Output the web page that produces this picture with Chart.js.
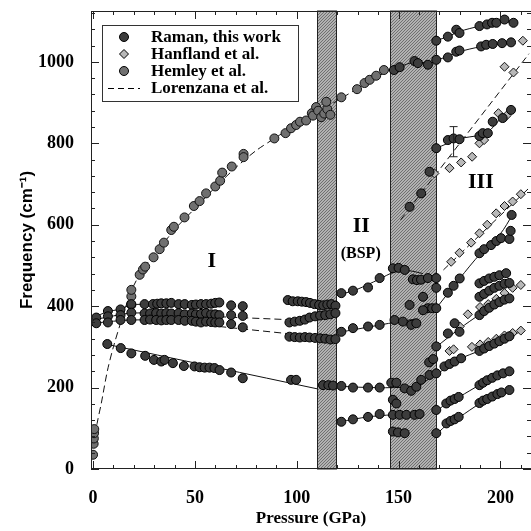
<!DOCTYPE html>
<html lang="en">
<head>
<meta charset="UTF-8">
<title>Frequency vs Pressure</title>
<script src="https://cdn.jsdelivr.net/npm/chart.js@4.4.1/dist/chart.umd.min.js"></script>
<style>
  html, body { margin: 0; padding: 0; background: #fff; }
  #contenedor { width: 531px; height: 531px; }
</style>
</head>
<body>
<div id="contenedor"><canvas id="graficoRaman"></canvas></div>
<script>
// ==========================================================================
// DATOS  [presión (GPa), frecuencia (cm-1)]
// ==========================================================================
const ticksX = [0, 50, 100, 150, 200];
const ticksY = [0, 200, 400, 600, 800, 1000];
const bandasTransicion = [[110, 120], [146, 169]];

// Raman, this work: fase I
const ramanFaseI = [
  [7.3,388],[13.5,392],[18.8,405],[25.3,405],[29.4,405],[31.5,406],[33.5,407],[36,407],[38.4,408],[42,405],
  [45,405],[48.5,403],[50.5,404],[53,405],[55.5,405],[58,406],[60,408],[62,409],[67.8,402],[73.5,400],
  [1.6,372],[7.3,375],[13.5,378],[18.8,384],[25.3,382],[28,382],[31,383],[33.5,382],[36,383],[38.4,382],
  [42,383],[45,380],[48.5,382],[50.5,380],[53,381],[55.5,383],[58,380],[60,380],[62,378],[67.8,378],[73.5,376],
  [1.6,358],[7.3,360],[13.5,366],[18.8,366],[25.3,366],[28,367],[31,366],[33.5,365],[36,366],[38.4,366],
  [42,366],[45,364],[48.5,364],[50.5,362],[53,360],[55.5,362],[58,361],[60,360],[62,360],[67.8,356],[73.5,348],
  [7,307],[13.6,297],[18.8,284],[25.6,278],[29.9,268],[33.5,264],[35.1,268],[39.2,260],[44.6,253],[49.8,252],
  [52.3,250],[54.8,249],[57.2,249],[59.6,248],[62.1,243],[67.8,237],[73.5,223],[97.2,219],[99.7,219],
  [95.6,415],[98,412],[100.5,412],[102.5,411],[104.6,410],[106.5,408],[108.7,405],[111,403],[113,402],[115,404],[117,405],[119,401],
  [96.4,360],[99,362],[101.5,364],[104,367],[106.3,372],[109,375],[111.5,377],[114,378],[116.5,380],[119,383],
  [96.4,325],[99,324],[101.5,323],[104,324],[106.3,323],[109,322],[111.5,321],[114,320],[116.5,318],[119,319]
];

// Raman, this work: fase II y zona de transición
const ramanFaseII = [
  [121.9,432],[127.6,438],[135,446],[140.7,469],
  [121.9,337],[127.6,346],[135,350],[140.7,354],
  [112.9,206],[115.5,206],[117.8,205],[121.9,204],[127.6,200],[135,200],[140.7,200],
  [121.9,116],[127.6,122],[135,128],[140.7,135],
  [147.2,493],[150,494],[153,489],[157,466],[159,464],[161,465],[164.4,469],[168.5,469],[168.5,445],[162,423],[155.4,403],
  [148,366],[152.1,362],[156.2,354],[158.7,358],[164.4,395],[166.5,395],[168.5,395],[162,390],
  [146.4,212],[148.9,212],[153,198],[156.2,192],[158.7,202],[161.1,219],[165.2,231],[168.5,235],[165,262],[167,270],
  [147.2,170],[148.9,161],
  [147.2,133],[150.5,133],[153.8,133],[157.8,133],[160.3,135],[168.5,145],
  [147.2,92],[149.7,90],[153,88],[168.5,88],
  [168.5,301],[168.5,788],[165.2,730],[161.1,677],[155.4,644],
  [147.7,980],[150.5,987],[157.8,1002],[159.5,997],[164.4,993],[168.5,1005],[168.5,1052]
];

// Raman, this work: fase III
const ramanFaseIII = [
  [174.2,1011],[178.3,1025],[179.9,1028],[190.5,1038],[193,1042],[196.2,1044],[200.8,1046],[205.2,1048],
  [174.2,1062],[178.3,1079],[179.9,1071],[189.7,1088],[193.4,1092],[195.9,1096],[198,1096],[202,1104],[206.4,1096],
  [174.2,808],[177,812],[179.9,810],[189.7,818],[191.3,825],[193.8,825],[196.2,853],[201.1,862],[205.2,882],
  [173.5,112],[175.5,118],[177.5,122],[179.5,128],[189.7,162],[191.5,168],[193.5,172],[196,178],[198.5,184],[200.5,188],[204.4,194],
  [173.4,161],[175.5,168],[177.5,172],[179.5,177],[189.7,206],[191.5,212],[193.5,218],[196,224],[198.5,230],[201.3,235],[204.4,240],
  [172.5,252],[175,258],[177.5,264],[180.7,272],[189.7,290],[192,296],[194.5,302],[197,308],[199.5,314],[202,320],[204.4,326],
  [174.2,333],[177.5,358],[179.9,337],[189.7,378],[192,388],[194.5,396],[197,404],[199.5,410],[202,416],[204.4,419],
  [189.7,423],[192,430],[194.5,438],[197,445],[199.5,450],[202,455],[204.4,457],
  [189.7,456],[192,462],[194.5,468],[197,472],[199.5,476],[202.8,481],
  [174.2,433],[177,450],[180,468],[189.7,530],[192,540],[195.4,550],[198,560],[200.3,567],[204.4,565],[205,585],[205.5,624]
];

// Hanfland et al.
const hanflandPuntos = [
  [202,988],[206.4,974],[211,1052],
  [167.6,726],[175,739],[180.7,753],[186.1,767],[189.7,800],[192,808],[199,874],[203,868],
  [175.8,509],[179.9,531],[185.6,556],[189.7,579],[193.5,600],[197.9,628],[202,646],[206,657],[210,675],
  [180,350],[184,380],[190,398],[194,405],[198,418],[202,432],[206,445],[210,452],
  [175,290],[177,294],[186,300],[190,306],[194,312],[198,320],[202,328],[206,334],[210,340]
];

// Hemley et al.
const hemleyPuntos = [
  [0,35],[0.3,62],[0.4,75],[0.5,88],[0.6,98],
  [18.8,403],[18.8,424],[18.8,440],[22.9,477],[24.5,490],[25.6,497],[29.7,520],[32.7,540],[34.8,556],[38.4,587],
  [39.7,595],[44.9,618],[49.5,646],[52.3,658],[55.5,677],[60,694],[62.4,708],[63.4,728],[68.1,743],[73.9,774],[73.9,766],
  [89,812],[94.5,825],[97.2,837],[99.7,845],[101.6,853],[104.6,856],[107.4,874],[109.5,889],[108,868],[110.5,880],
  [112,864],[113.5,873],[115,884],[116.5,870],[114.5,902],[121.9,913],[129.6,933],[133.3,948],[135.8,956],[139,966],[142.8,980]
];

// Lorenzana et al. (curvas discontinuas)
const lorenzanaCurvas = [
  [[0,28],[1,75],[2,112],[4,160],[7,240],[10,300],[14,366],[19,440],[25,495],[30,525],[40,588],[50,640],[60,692],
   [70,740],[80,782],[90,815],[100,848],[110,876],[120,905],[130,935],[140,965],[146,980]],
  [[62,374],[100,366]],
  [[62,350],[110,325]],
  [[151,612],[214,1020]],
  [[172,489],[214,690]]
];

// Ajustes continuos de los datos Raman
const ajustesRaman = [
  [[0,372],[7,386],[13.5,393],[18.8,403],[30,405],[62,408]],
  [[0,366],[10,376],[18.8,383],[40,382],[62,379]],
  [[0,358],[10,363],[18.8,366],[40,366],[62,360]],
  [[7,306],[110,197]],
  [[145,978],[150,987],[158,1000],[165,997],[170,1006],[180,1025],[190,1037],[200,1044],[206,1048]],
  [[168.5,1052],[175,1064],[180,1075],[190,1088],[200,1098],[206,1097]],
  [[168.5,788],[180,811],[190,820],[194,828],[200,860],[205,880]],
  [[121,428],[130,442],[140,465],[148,484],[155,487],[162,480]],
  [[120,335],[140,353],[150,362],[158,368]],
  [[113,206],[130,201],[148,200],[160,206],[168.5,235]],
  [[121,116],[135,128],[147,133],[160,134]],
  [[168.5,85],[175,114],[180,128],[190,161],[200,186],[206,198]],
  [[168.5,142],[175,166],[180,178],[190,207],[200,232],[206,242]],
  [[168.5,232],[180,270],[190,291],[200,314],[211,340]],
  [[168.5,300],[180,345],[190,380],[200,410],[206,423]],
  [[168.5,395],[180,468],[190,528],[200,578],[206,625]]
];

const etiquetasFase = [["I", 58.3, 511, 22], ["II", 131.7, 597, 22], ["(BSP)", 131.4, 528, 16], ["III", 190.4, 704, 22]];
const barraError = [177, 767, 841];

// ==========================================================================
// ESTILOS
// ==========================================================================
const fuenteSerif = '"Liberation Serif", "Times New Roman", serif';
const fuenteSans = '"Liberation Sans", Arial, sans-serif';

const aXY = lista => lista.map(([x, y]) => ({ x: x, y: y }));

// Patrón rayado fino para las bandas de transición
const patronRayado = (function () {
  const c = document.createElement('canvas');
  c.width = 3; c.height = 3;
  const g = c.getContext('2d');
  g.fillStyle = '#b2b2b2';
  g.fillRect(0, 0, 3, 3);
  g.fillStyle = '#707070';
  g.fillRect(2, 0, 1, 1);
  g.fillRect(1, 1, 1, 1);
  g.fillRect(0, 2, 1, 1);
  return c;
})();

function dibujarMarcador(ctx, tipo, x, y) {
  ctx.save();
  ctx.lineWidth = 1;
  ctx.strokeStyle = '#000';
  ctx.beginPath();
  if (tipo === 'diamante') {
    ctx.fillStyle = '#b8b8b8';
    ctx.moveTo(x, y - 4.5); ctx.lineTo(x + 4.5, y); ctx.lineTo(x, y + 4.5); ctx.lineTo(x - 4.5, y); ctx.closePath();
  } else {
    ctx.fillStyle = tipo === 'raman' ? '#3c3c3c' : '#707070';
    ctx.arc(x, y, 4.5, 0, Math.PI * 2);
  }
  ctx.fill();
  ctx.stroke();
  ctx.restore();
}

// ==========================================================================
// PLUGIN: bandas, marco con ticks interiores, leyenda y rótulos
// ==========================================================================
const decoracion = {
  id: 'decoracion',
  beforeDatasetsDraw(chart) {
    const { ctx, chartArea: a, scales: { x } } = chart;
    ctx.save();
    bandasTransicion.forEach(([p1, p2]) => {
      const x1 = Math.round(x.getPixelForValue(p1)), x2 = Math.round(x.getPixelForValue(p2));
      ctx.fillStyle = ctx.createPattern(patronRayado, 'repeat');
      ctx.fillRect(x1, a.top, x2 - x1, a.bottom - a.top);
      ctx.strokeStyle = '#222';
      ctx.lineWidth = 1;
      ctx.strokeRect(x1 + 0.5, a.top, x2 - x1 - 1, a.bottom - a.top);
    });
    ctx.restore();
  },
  afterDatasetsDraw(chart) {
    const { ctx, chartArea: a, scales: { x, y } } = chart;
    ctx.save();

    // Marco
    ctx.strokeStyle = '#222';
    ctx.lineWidth = 1;
    ctx.beginPath();
    ctx.moveTo(a.left + 0.5, a.top + 0.5); ctx.lineTo(a.right, a.top + 0.5);
    ctx.moveTo(a.left + 0.5, a.top); ctx.lineTo(a.left + 0.5, a.bottom);
    ctx.moveTo(a.left, a.bottom - 0.5); ctx.lineTo(a.right, a.bottom - 0.5);
    ctx.stroke();

    // Ticks interiores (mayores y menores)
    ctx.beginPath();
    for (let p = 0; p <= 215; p += 10) {
      const px = Math.round(x.getPixelForValue(p)) + 0.5;
      const l = p % 50 === 0 ? 8 : 4;
      ctx.moveTo(px, a.bottom); ctx.lineTo(px, a.bottom - l);
      ctx.moveTo(px, a.top); ctx.lineTo(px, a.top + l);
    }
    for (let f = 0; f <= 1125; f += 40) {
      const py = Math.round(y.getPixelForValue(f)) + 0.5;
      const l = f % 200 === 0 ? 8 : 4;
      ctx.moveTo(a.left, py); ctx.lineTo(a.left + l, py);
      ctx.moveTo(a.right, py); ctx.lineTo(a.right - l, py);
    }
    ctx.stroke();

    // Barra de error
    const bx = x.getPixelForValue(barraError[0]);
    const by1 = y.getPixelForValue(barraError[1]), by2 = y.getPixelForValue(barraError[2]);
    ctx.beginPath();
    ctx.moveTo(bx, by1); ctx.lineTo(bx, by2);
    ctx.moveTo(bx - 4, by1); ctx.lineTo(bx + 4, by1);
    ctx.moveTo(bx - 4, by2); ctx.lineTo(bx + 4, by2);
    ctx.stroke();

    // Rótulos de fase
    ctx.fillStyle = '#000';
    ctx.textAlign = 'center';
    ctx.textBaseline = 'middle';
    etiquetasFase.forEach(([t, p, f, s]) => {
      ctx.font = 'bold ' + s + 'px ' + fuenteSerif;
      ctx.fillText(t, x.getPixelForValue(p), y.getPixelForValue(f));
    });

    // Leyenda
    ctx.fillStyle = '#fff';
    ctx.fillRect(102, 25, 197, 77);
    ctx.strokeStyle = '#333';
    ctx.strokeRect(102.5, 25.5, 196, 76);
    const filas = [['raman', 'Raman, this work', 37], ['diamante', 'Hanfland et al.', 54],
                   ['hemley', 'Hemley et al.', 71], ['linea', 'Lorenzana et al.', 88]];
    ctx.textAlign = 'left';
    ctx.font = 'bold 17px ' + fuenteSerif;
    filas.forEach(([tipo, texto, fy]) => {
      if (tipo === 'linea') {
        ctx.save();
        ctx.setLineDash([6, 4]);
        ctx.strokeStyle = '#000';
        ctx.beginPath(); ctx.moveTo(108, fy + 0.5); ctx.lineTo(140, fy + 0.5); ctx.stroke();
        ctx.restore();
      } else {
        dibujarMarcador(ctx, tipo, 124, fy);
      }
      ctx.fillStyle = '#000';
      ctx.fillText(texto, 151, fy + 1);
    });
    ctx.restore();
  }
};

// ==========================================================================
// DATASETS
// ==========================================================================
const datasets = [];

lorenzanaCurvas.forEach(c => datasets.push({
  data: aXY(c), showLine: true, pointRadius: 0, borderColor: '#111', borderWidth: 1,
  borderDash: [7, 4], tension: 0.3, order: 2
}));
ajustesRaman.forEach(c => datasets.push({
  data: aXY(c), showLine: true, pointRadius: 0, borderColor: '#111', borderWidth: 1,
  tension: 0.3, order: 2
}));

datasets.push({
  label: 'Hanfland et al.', data: aXY(hanflandPuntos), pointStyle: 'rectRot', pointRadius: 4.5,
  backgroundColor: '#b8b8b8', borderColor: '#111', borderWidth: 1, order: 1
});
datasets.push({
  label: 'Hemley et al.', data: aXY(hemleyPuntos), pointStyle: 'circle', pointRadius: 4.5,
  backgroundColor: '#707070', borderColor: '#111', borderWidth: 1, order: 1
});
datasets.push({
  label: 'Raman, this work', data: aXY(ramanFaseI.concat(ramanFaseII, ramanFaseIII)), pointStyle: 'circle',
  pointRadius: 4.5, backgroundColor: '#3c3c3c', borderColor: '#000', borderWidth: 1, order: 0
});

// ==========================================================================
// GRÁFICO
// ==========================================================================
new Chart(document.getElementById('graficoRaman'), {
  type: 'scatter',
  data: { datasets: datasets },
  options: {
    responsive: true,
    maintainAspectRatio: false,
    animation: false,
    // autoPadding desactivado para que el área llegue al borde derecho
    layout: { autoPadding: false, padding: { top: 11, right: 0, left: 0, bottom: 0 } },
    plugins: { legend: { display: false }, tooltip: { enabled: false } },
    scales: {
      x: {
        type: 'linear', min: -1, max: 215,
        grid: { display: false }, border: { display: false },
        afterBuildTicks: s => { s.ticks = ticksX.map(v => ({ value: v })); },
        afterFit: s => { s.height = 62; s.paddingLeft = 0; s.paddingRight = 0; },
        ticks: { color: '#000', padding: 11, maxRotation: 0, callback: v => String(v),
                 font: { family: fuenteSerif, size: 18, weight: 'bold' } },
        title: { display: true, text: 'Pressure (GPa)', color: '#000', padding: { top: 0, bottom: 2 },
                 font: { family: fuenteSerif, size: 17, weight: 'bold' } }
      },
      y: {
        type: 'linear', min: 0, max: 1125,
        grid: { display: false }, border: { display: false },
        afterBuildTicks: s => { s.ticks = ticksY.map(v => ({ value: v })); },
        afterFit: s => { s.width = 91; s.paddingTop = 0; s.paddingBottom = 0; },
        ticks: { color: '#000', padding: 9, callback: v => String(v),
                 font: { family: fuenteSerif, size: 18, weight: 'bold' } },
        title: { display: true, text: 'Frequency (cm⁻¹)', color: '#000', padding: { top: 17, bottom: 0 },
                 font: { family: fuenteSans, size: 17, weight: 'bold' } }
      }
    }
  },
  plugins: [decoracion]
});
</script>
</body>
</html>
